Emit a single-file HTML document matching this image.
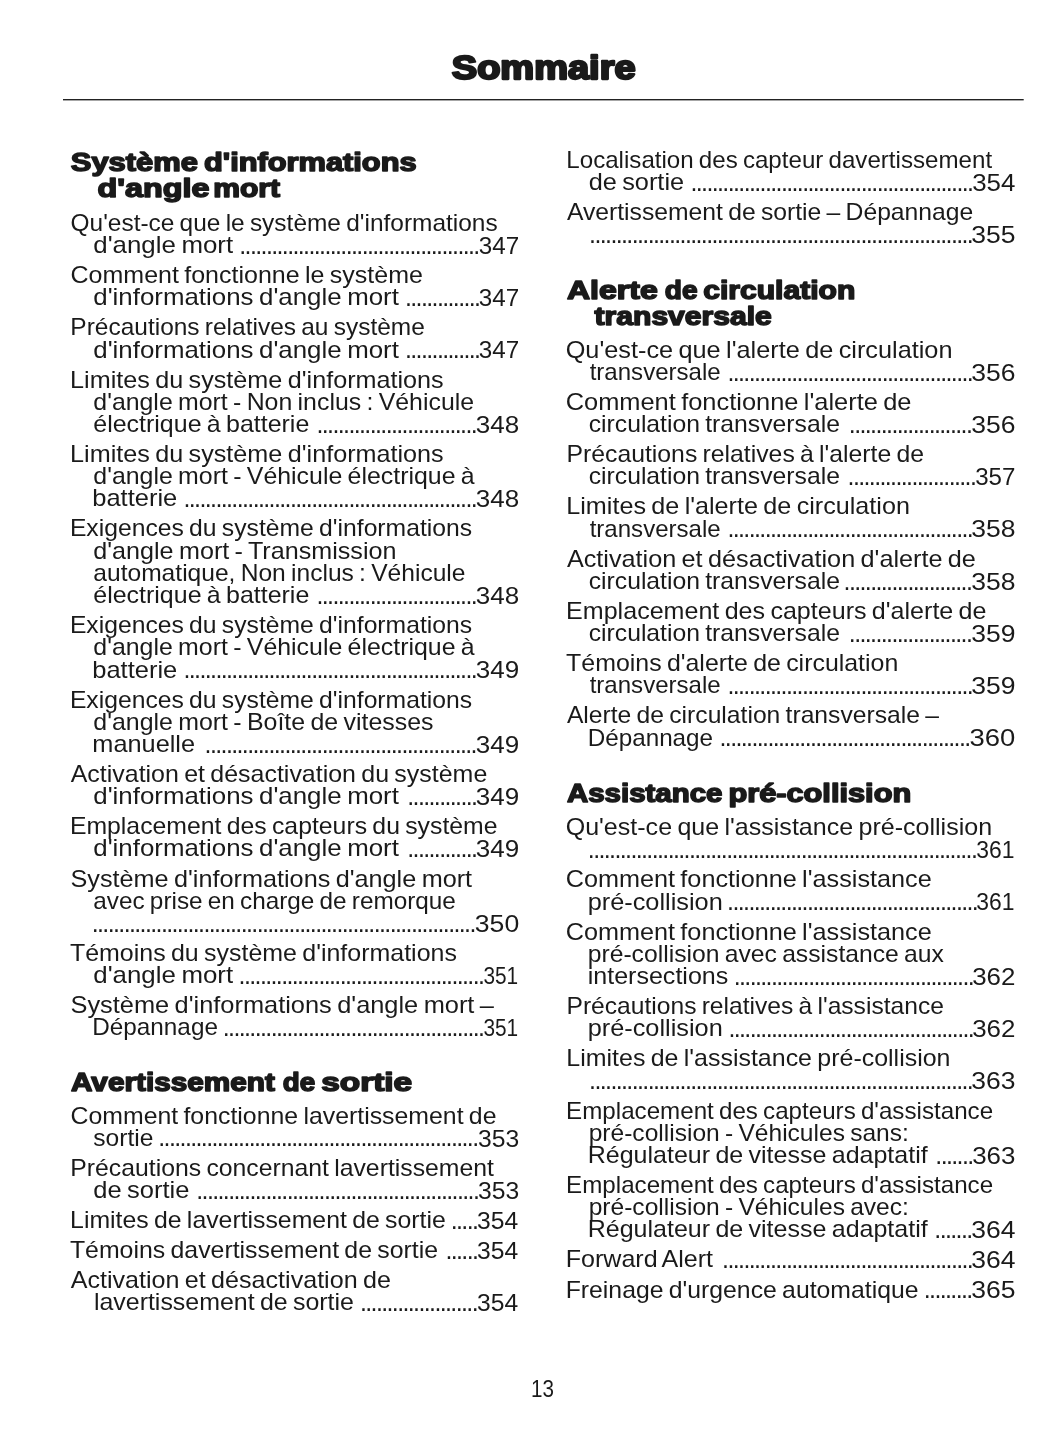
<!DOCTYPE html>
<html lang="fr">
<head>
<meta charset="utf-8">
<title>Sommaire</title>
<style>
html,body{margin:0;padding:0;background:#fff}
body{width:1055px;height:1448px;overflow:hidden}
svg{display:block}
text{font-family:"Liberation Sans",sans-serif;fill:#1a1a1a;white-space:pre}
.t{font-size:23.2px;word-spacing:-1.5px}
.n{font-size:24.6px}
.h{font-size:24.9px;font-weight:700;stroke:#1a1a1a;stroke-width:1.5px;stroke-linejoin:round}
.T{font-size:32.5px;font-weight:700;stroke:#1a1a1a;stroke-width:2.3px;stroke-linejoin:round}
.d{font-size:25.0px}
</style>
</head>
<body>
<svg width="1055" height="1448" viewBox="0 0 1055 1448">
<rect x="63" y="99" width="960.7" height="1.4" fill="#222"/>
<text class="T" x="451.80" y="78.50" textLength="183.80" lengthAdjust="spacingAndGlyphs">Sommaire</text>
<text class="h" y="171.20"><tspan x="70.79" textLength="127.20" lengthAdjust="spacingAndGlyphs">Système</tspan> <tspan x="204.00" textLength="212.60" lengthAdjust="spacingAndGlyphs">d'informations</tspan></text>
<text class="h" y="197.10"><tspan x="97.60" textLength="111.80" lengthAdjust="spacingAndGlyphs">d'angle</tspan> <tspan x="213.21" textLength="66.81" lengthAdjust="spacingAndGlyphs">mort</tspan></text>
<text class="t" x="70.50" y="230.80" textLength="427.19" lengthAdjust="spacingAndGlyphs">Qu'est-ce que le système d'informations</text>
<text class="t" x="93.31" y="253.00" textLength="139.79" lengthAdjust="spacingAndGlyphs">d'angle mort</text>
<text class="d" x="239.28" y="253.60" textLength="241.03" lengthAdjust="spacing">.............................................</text>
<text class="n" x="478.80" y="253.80" textLength="40.40" lengthAdjust="spacingAndGlyphs">347</text>
<text class="t" x="70.50" y="283.05" textLength="352.40" lengthAdjust="spacingAndGlyphs">Comment fonctionne le système</text>
<text class="t" x="93.31" y="305.25" textLength="305.59" lengthAdjust="spacingAndGlyphs">d'informations d'angle mort</text>
<text class="d" x="404.96" y="305.85" textLength="76.11" lengthAdjust="spacing">..............</text>
<text class="n" x="478.80" y="306.05" textLength="40.40" lengthAdjust="spacingAndGlyphs">347</text>
<text class="t" x="70.30" y="335.30" textLength="354.60" lengthAdjust="spacingAndGlyphs">Précautions relatives au système</text>
<text class="t" x="93.31" y="357.50" textLength="305.59" lengthAdjust="spacingAndGlyphs">d'informations d'angle mort</text>
<text class="d" x="404.96" y="358.10" textLength="76.11" lengthAdjust="spacing">..............</text>
<text class="n" x="478.80" y="358.30" textLength="40.40" lengthAdjust="spacingAndGlyphs">347</text>
<text class="t" x="70.10" y="387.55" textLength="373.60" lengthAdjust="spacingAndGlyphs">Limites du système d'informations</text>
<text class="t" x="93.30" y="409.75" textLength="380.79" lengthAdjust="spacingAndGlyphs">d'angle mort - Non inclus : Véhicule</text>
<text class="t" x="93.31" y="431.95" textLength="215.99" lengthAdjust="spacingAndGlyphs">électrique à batterie</text>
<text class="d" x="316.48" y="432.55" textLength="161.23" lengthAdjust="spacing">..............................</text>
<text class="n" x="475.80" y="432.75" textLength="43.40" lengthAdjust="spacingAndGlyphs">348</text>
<text class="t" x="70.10" y="462.00" textLength="373.60" lengthAdjust="spacingAndGlyphs">Limites du système d'informations</text>
<text class="t" x="93.31" y="484.20" textLength="381.39" lengthAdjust="spacingAndGlyphs">d'angle mort - Véhicule électrique à</text>
<text class="t" x="92.28" y="506.40" textLength="85.02" lengthAdjust="spacingAndGlyphs">batterie</text>
<text class="d" x="183.48" y="507.00" textLength="294.23" lengthAdjust="spacing">.......................................................</text>
<text class="n" x="475.80" y="507.20" textLength="43.40" lengthAdjust="spacingAndGlyphs">348</text>
<text class="t" x="69.90" y="536.45" textLength="402.20" lengthAdjust="spacingAndGlyphs">Exigences du système d'informations</text>
<text class="t" x="93.30" y="558.65" textLength="303.19" lengthAdjust="spacingAndGlyphs">d'angle mort - Transmission</text>
<text class="t" x="93.30" y="580.85" textLength="372.20" lengthAdjust="spacingAndGlyphs">automatique, Non inclus : Véhicule</text>
<text class="t" x="93.31" y="603.05" textLength="215.99" lengthAdjust="spacingAndGlyphs">électrique à batterie</text>
<text class="d" x="316.48" y="603.65" textLength="161.23" lengthAdjust="spacing">..............................</text>
<text class="n" x="475.80" y="603.85" textLength="43.40" lengthAdjust="spacingAndGlyphs">348</text>
<text class="t" x="69.90" y="633.10" textLength="402.20" lengthAdjust="spacingAndGlyphs">Exigences du système d'informations</text>
<text class="t" x="93.31" y="655.30" textLength="381.39" lengthAdjust="spacingAndGlyphs">d'angle mort - Véhicule électrique à</text>
<text class="t" x="92.28" y="677.50" textLength="85.02" lengthAdjust="spacingAndGlyphs">batterie</text>
<text class="d" x="183.48" y="678.10" textLength="294.23" lengthAdjust="spacing">.......................................................</text>
<text class="n" x="475.80" y="678.30" textLength="43.40" lengthAdjust="spacingAndGlyphs">349</text>
<text class="t" x="69.90" y="707.55" textLength="402.20" lengthAdjust="spacingAndGlyphs">Exigences du système d'informations</text>
<text class="t" x="93.30" y="729.75" textLength="340.19" lengthAdjust="spacingAndGlyphs">d'angle mort - Boîte de vitesses</text>
<text class="t" x="92.29" y="751.95" textLength="102.81" lengthAdjust="spacingAndGlyphs">manuelle</text>
<text class="d" x="204.60" y="752.55" textLength="272.95" lengthAdjust="spacing">...................................................</text>
<text class="n" x="475.80" y="752.75" textLength="43.40" lengthAdjust="spacingAndGlyphs">349</text>
<text class="t" x="70.70" y="782.00" textLength="416.60" lengthAdjust="spacingAndGlyphs">Activation et désactivation du système</text>
<text class="t" x="93.31" y="804.20" textLength="305.59" lengthAdjust="spacingAndGlyphs">d'informations d'angle mort</text>
<text class="d" x="407.24" y="804.80" textLength="70.79" lengthAdjust="spacing">.............</text>
<text class="n" x="475.80" y="805.00" textLength="43.40" lengthAdjust="spacingAndGlyphs">349</text>
<text class="t" x="69.90" y="834.25" textLength="427.61" lengthAdjust="spacingAndGlyphs">Emplacement des capteurs du système</text>
<text class="t" x="93.31" y="856.45" textLength="305.59" lengthAdjust="spacingAndGlyphs">d'informations d'angle mort</text>
<text class="d" x="407.24" y="857.05" textLength="70.79" lengthAdjust="spacing">.............</text>
<text class="n" x="475.80" y="857.25" textLength="43.40" lengthAdjust="spacingAndGlyphs">349</text>
<text class="t" x="70.50" y="886.50" textLength="401.60" lengthAdjust="spacingAndGlyphs">Système d'informations d'angle mort</text>
<text class="t" x="93.30" y="908.70" textLength="362.59" lengthAdjust="spacingAndGlyphs">avec prise en charge de remorque</text>
<text class="d" x="91.72" y="931.50" textLength="384.67" lengthAdjust="spacing">........................................................................</text>
<text class="n" x="474.80" y="931.70" textLength="44.40" lengthAdjust="spacingAndGlyphs">350</text>
<text class="t" x="69.90" y="960.95" textLength="387.00" lengthAdjust="spacingAndGlyphs">Témoins du système d'informations</text>
<text class="t" x="93.31" y="983.15" textLength="139.79" lengthAdjust="spacingAndGlyphs">d'angle mort</text>
<text class="d" x="238.60" y="983.75" textLength="246.35" lengthAdjust="spacing">..............................................</text>
<text class="n" x="483.41" y="983.95" textLength="34.77" lengthAdjust="spacingAndGlyphs">351</text>
<text class="t" x="70.50" y="1013.20" textLength="423.40" lengthAdjust="spacingAndGlyphs">Système d'informations d'angle mort –</text>
<text class="t" x="92.30" y="1035.40" textLength="125.61" lengthAdjust="spacingAndGlyphs">Dépannage</text>
<text class="d" x="222.76" y="1036.00" textLength="262.31" lengthAdjust="spacing">.................................................</text>
<text class="n" x="483.41" y="1036.20" textLength="34.77" lengthAdjust="spacingAndGlyphs">351</text>
<text class="h" y="1091.15"><tspan x="70.99" textLength="203.82" lengthAdjust="spacingAndGlyphs">Avertissement</tspan> <tspan x="282.80" textLength="32.41" lengthAdjust="spacingAndGlyphs">de</tspan> <tspan x="321.19" textLength="91.03" lengthAdjust="spacingAndGlyphs">sortie</tspan></text>
<text class="t" x="70.50" y="1123.60" textLength="425.99" lengthAdjust="spacingAndGlyphs">Comment fonctionne lavertissement de</text>
<text class="t" x="93.32" y="1145.80" textLength="60.16" lengthAdjust="spacingAndGlyphs">sortie</text>
<text class="d" x="158.28" y="1146.40" textLength="320.83" lengthAdjust="spacing">............................................................</text>
<text class="n" x="478.00" y="1146.60" textLength="41.19" lengthAdjust="spacingAndGlyphs">353</text>
<text class="t" x="70.30" y="1175.85" textLength="423.60" lengthAdjust="spacingAndGlyphs">Précautions concernant lavertissement</text>
<text class="t" x="93.31" y="1198.05" textLength="96.18" lengthAdjust="spacingAndGlyphs">de sortie</text>
<text class="d" x="196.24" y="1198.65" textLength="283.59" lengthAdjust="spacing">.....................................................</text>
<text class="n" x="478.00" y="1198.85" textLength="41.19" lengthAdjust="spacingAndGlyphs">353</text>
<text class="t" x="70.10" y="1228.10" textLength="375.60" lengthAdjust="spacingAndGlyphs">Limites de lavertissement de sortie</text>
<text class="d" x="450.68" y="1228.70" textLength="28.23" lengthAdjust="spacing">.....</text>
<text class="n" x="477.03" y="1228.90" textLength="41.16" lengthAdjust="spacingAndGlyphs">354</text>
<text class="t" x="69.90" y="1258.15" textLength="368.20" lengthAdjust="spacingAndGlyphs">Témoins davertissement de sortie</text>
<text class="d" x="445.40" y="1258.75" textLength="33.55" lengthAdjust="spacing">......</text>
<text class="n" x="477.03" y="1258.95" textLength="41.16" lengthAdjust="spacingAndGlyphs">354</text>
<text class="t" x="70.70" y="1288.20" textLength="320.19" lengthAdjust="spacingAndGlyphs">Activation et désactivation de</text>
<text class="t" x="93.91" y="1310.40" textLength="259.99" lengthAdjust="spacingAndGlyphs">lavertissement de sortie</text>
<text class="d" x="359.92" y="1311.00" textLength="118.67" lengthAdjust="spacing">......................</text>
<text class="n" x="477.03" y="1311.20" textLength="41.16" lengthAdjust="spacingAndGlyphs">354</text>
<text class="t" x="566.31" y="168.20" textLength="425.80" lengthAdjust="spacingAndGlyphs">Localisation des capteur davertissement</text>
<text class="t" x="588.70" y="190.40" textLength="95.38" lengthAdjust="spacingAndGlyphs">de sortie</text>
<text class="d" x="690.44" y="191.00" textLength="283.59" lengthAdjust="spacing">.....................................................</text>
<text class="n" x="972.19" y="191.20" textLength="43.21" lengthAdjust="spacingAndGlyphs">354</text>
<text class="t" x="566.90" y="220.45" textLength="406.39" lengthAdjust="spacingAndGlyphs">Avertissement de sortie – Dépannage</text>
<text class="d" x="589.12" y="243.25" textLength="384.67" lengthAdjust="spacing">........................................................................</text>
<text class="n" x="971.18" y="243.45" textLength="44.24" lengthAdjust="spacingAndGlyphs">355</text>
<text class="h" y="298.70"><tspan x="566.98" textLength="90.83" lengthAdjust="spacingAndGlyphs">Alerte</tspan> <tspan x="664.82" textLength="32.77" lengthAdjust="spacingAndGlyphs">de</tspan> <tspan x="703.20" textLength="152.19" lengthAdjust="spacingAndGlyphs">circulation</tspan></text>
<text class="h" y="324.95"><tspan x="594.59" textLength="177.22" lengthAdjust="spacingAndGlyphs">transversale</tspan></text>
<text class="t" x="565.70" y="357.70" textLength="386.81" lengthAdjust="spacingAndGlyphs">Qu'est-ce que l'alerte de circulation</text>
<text class="t" x="589.70" y="379.90" textLength="130.98" lengthAdjust="spacingAndGlyphs">transversale</text>
<text class="d" x="727.40" y="380.50" textLength="246.35" lengthAdjust="spacing">..............................................</text>
<text class="n" x="971.18" y="380.70" textLength="44.24" lengthAdjust="spacingAndGlyphs">356</text>
<text class="t" x="565.70" y="409.95" textLength="345.80" lengthAdjust="spacingAndGlyphs">Comment fonctionne l'alerte de</text>
<text class="t" x="588.70" y="432.15" textLength="251.20" lengthAdjust="spacingAndGlyphs">circulation transversale</text>
<text class="d" x="848.84" y="432.75" textLength="123.99" lengthAdjust="spacing">.......................</text>
<text class="n" x="971.18" y="432.95" textLength="44.24" lengthAdjust="spacingAndGlyphs">356</text>
<text class="t" x="566.50" y="462.20" textLength="357.60" lengthAdjust="spacingAndGlyphs">Précautions relatives à l'alerte de</text>
<text class="t" x="588.70" y="484.40" textLength="251.20" lengthAdjust="spacingAndGlyphs">circulation transversale</text>
<text class="d" x="847.56" y="485.00" textLength="129.31" lengthAdjust="spacing">........................</text>
<text class="n" x="975.18" y="485.20" textLength="40.24" lengthAdjust="spacingAndGlyphs">357</text>
<text class="t" x="566.30" y="514.45" textLength="343.60" lengthAdjust="spacingAndGlyphs">Limites de l'alerte de circulation</text>
<text class="t" x="589.70" y="536.65" textLength="130.98" lengthAdjust="spacingAndGlyphs">transversale</text>
<text class="d" x="727.40" y="537.25" textLength="246.35" lengthAdjust="spacing">..............................................</text>
<text class="n" x="971.18" y="537.45" textLength="44.24" lengthAdjust="spacingAndGlyphs">358</text>
<text class="t" x="566.90" y="566.70" textLength="409.00" lengthAdjust="spacingAndGlyphs">Activation et désactivation d'alerte de</text>
<text class="t" x="588.70" y="588.90" textLength="251.20" lengthAdjust="spacingAndGlyphs">circulation transversale</text>
<text class="d" x="843.56" y="589.50" textLength="129.31" lengthAdjust="spacing">........................</text>
<text class="n" x="971.18" y="589.70" textLength="44.24" lengthAdjust="spacingAndGlyphs">358</text>
<text class="t" x="566.10" y="618.95" textLength="420.40" lengthAdjust="spacingAndGlyphs">Emplacement des capteurs d'alerte de</text>
<text class="t" x="588.70" y="641.15" textLength="251.20" lengthAdjust="spacingAndGlyphs">circulation transversale</text>
<text class="d" x="848.84" y="641.75" textLength="123.99" lengthAdjust="spacing">.......................</text>
<text class="n" x="971.19" y="641.95" textLength="44.21" lengthAdjust="spacingAndGlyphs">359</text>
<text class="t" x="566.10" y="671.20" textLength="332.19" lengthAdjust="spacingAndGlyphs">Témoins d'alerte de circulation</text>
<text class="t" x="589.70" y="693.40" textLength="130.98" lengthAdjust="spacingAndGlyphs">transversale</text>
<text class="d" x="727.40" y="694.00" textLength="246.35" lengthAdjust="spacing">..............................................</text>
<text class="n" x="971.19" y="694.20" textLength="44.21" lengthAdjust="spacingAndGlyphs">359</text>
<text class="t" x="566.90" y="723.45" textLength="372.01" lengthAdjust="spacingAndGlyphs">Alerte de circulation transversale –</text>
<text class="t" x="587.70" y="745.65" textLength="125.40" lengthAdjust="spacingAndGlyphs">Dépannage</text>
<text class="d" x="719.52" y="746.25" textLength="251.67" lengthAdjust="spacing">...............................................</text>
<text class="n" x="969.60" y="746.45" textLength="45.80" lengthAdjust="spacingAndGlyphs">360</text>
<text class="h" y="801.90"><tspan x="566.99" textLength="155.42" lengthAdjust="spacingAndGlyphs">Assistance</tspan> <tspan x="728.40" textLength="182.81" lengthAdjust="spacingAndGlyphs">pré-collision</tspan></text>
<text class="t" x="565.70" y="835.10" textLength="426.40" lengthAdjust="spacingAndGlyphs">Qu'est-ce que l'assistance pré-collision</text>
<text class="d" x="587.84" y="857.90" textLength="389.99" lengthAdjust="spacing">.........................................................................</text>
<text class="n" x="976.18" y="858.10" textLength="38.25" lengthAdjust="spacingAndGlyphs">361</text>
<text class="t" x="565.70" y="887.35" textLength="366.00" lengthAdjust="spacingAndGlyphs">Comment fonctionne l'assistance</text>
<text class="t" x="587.69" y="909.55" textLength="135.02" lengthAdjust="spacingAndGlyphs">pré-collision</text>
<text class="d" x="727.12" y="910.15" textLength="251.67" lengthAdjust="spacing">...............................................</text>
<text class="n" x="976.18" y="910.35" textLength="38.25" lengthAdjust="spacingAndGlyphs">361</text>
<text class="t" x="565.70" y="939.60" textLength="366.00" lengthAdjust="spacingAndGlyphs">Comment fonctionne l'assistance</text>
<text class="t" x="587.70" y="961.80" textLength="356.20" lengthAdjust="spacingAndGlyphs">pré-collision avec assistance aux</text>
<text class="t" x="587.70" y="984.00" textLength="140.61" lengthAdjust="spacingAndGlyphs">intersections</text>
<text class="d" x="733.68" y="984.60" textLength="241.03" lengthAdjust="spacing">.............................................</text>
<text class="n" x="972.18" y="984.80" textLength="43.24" lengthAdjust="spacingAndGlyphs">362</text>
<text class="t" x="566.50" y="1014.05" textLength="377.40" lengthAdjust="spacingAndGlyphs">Précautions relatives à l'assistance</text>
<text class="t" x="587.69" y="1036.25" textLength="135.02" lengthAdjust="spacingAndGlyphs">pré-collision</text>
<text class="d" x="728.40" y="1036.85" textLength="246.35" lengthAdjust="spacing">..............................................</text>
<text class="n" x="972.18" y="1037.05" textLength="43.24" lengthAdjust="spacingAndGlyphs">362</text>
<text class="t" x="566.30" y="1066.30" textLength="384.20" lengthAdjust="spacingAndGlyphs">Limites de l'assistance pré-collision</text>
<text class="d" x="589.12" y="1089.10" textLength="384.67" lengthAdjust="spacing">........................................................................</text>
<text class="n" x="971.19" y="1089.30" textLength="44.21" lengthAdjust="spacingAndGlyphs">363</text>
<text class="t" x="566.10" y="1118.55" textLength="427.00" lengthAdjust="spacingAndGlyphs">Emplacement des capteurs d'assistance</text>
<text class="t" x="588.70" y="1140.75" textLength="320.21" lengthAdjust="spacingAndGlyphs">pré-collision - Véhicules sans:</text>
<text class="t" x="587.71" y="1162.95" textLength="339.99" lengthAdjust="spacingAndGlyphs">Régulateur de vitesse adaptatif</text>
<text class="d" x="935.32" y="1163.55" textLength="38.87" lengthAdjust="spacing">.......</text>
<text class="n" x="972.18" y="1163.75" textLength="43.24" lengthAdjust="spacingAndGlyphs">363</text>
<text class="t" x="566.10" y="1193.00" textLength="427.00" lengthAdjust="spacingAndGlyphs">Emplacement des capteurs d'assistance</text>
<text class="t" x="588.70" y="1215.20" textLength="320.21" lengthAdjust="spacingAndGlyphs">pré-collision - Véhicules avec:</text>
<text class="t" x="587.71" y="1237.40" textLength="339.99" lengthAdjust="spacingAndGlyphs">Régulateur de vitesse adaptatif</text>
<text class="d" x="934.32" y="1238.00" textLength="38.87" lengthAdjust="spacing">.......</text>
<text class="n" x="971.19" y="1238.20" textLength="44.21" lengthAdjust="spacingAndGlyphs">364</text>
<text class="t" x="565.72" y="1267.45" textLength="147.38" lengthAdjust="spacingAndGlyphs">Forward Alert</text>
<text class="d" x="722.12" y="1268.05" textLength="251.67" lengthAdjust="spacing">...............................................</text>
<text class="n" x="971.19" y="1268.25" textLength="44.21" lengthAdjust="spacingAndGlyphs">364</text>
<text class="t" x="565.70" y="1297.50" textLength="352.80" lengthAdjust="spacingAndGlyphs">Freinage d'urgence automatique</text>
<text class="d" x="923.76" y="1298.10" textLength="49.51" lengthAdjust="spacing">.........</text>
<text class="n" x="971.18" y="1298.30" textLength="44.24" lengthAdjust="spacingAndGlyphs">365</text>
<text class="t" x="530.93" y="1396.90" textLength="22.95" lengthAdjust="spacingAndGlyphs">13</text>
</svg>
</body>
</html>
